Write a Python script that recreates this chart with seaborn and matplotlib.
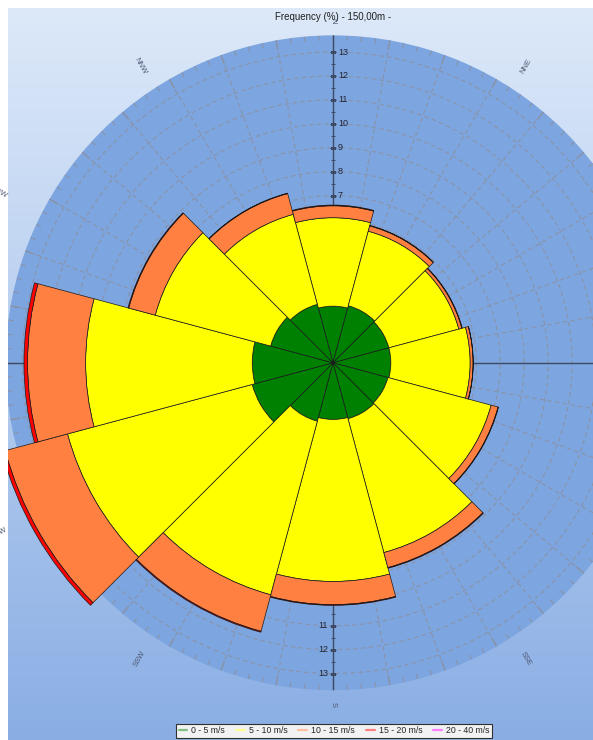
import numpy as np
import pandas as pd
import matplotlib
matplotlib.use("Agg")
import matplotlib.pyplot as plt
from matplotlib.lines import Line2D
from matplotlib.patches import Rectangle
import seaborn as sns

# ---- data -----------------------------------------------------------------
directions = ["N", "NNE", "ENE", "E", "ESE", "SSE",
              "S", "SSW", "WSW", "W", "WNW", "NNW"]
sector_deg = [0, 30, 60, 90, 120, 150, 180, 210, 240, 270, 300, 330]
speed_bins = ["0 - 5 m/s", "5 - 10 m/s", "10 - 15 m/s", "15 - 20 m/s", "20 - 40 m/s"]

# frequency (%) per sector for each speed class
freq_0_5 = [2.37, 2.47, 2.42, 2.42, 2.38, 2.42, 2.37, 2.53, 3.50, 3.38, 2.70, 2.53]
freq_5_10 = [3.70, 3.23, 3.03, 3.32, 4.47, 5.80, 6.78, 7.52, 8.00, 6.97, 5.00, 3.90]
freq_10_15 = [0.50, 0.23, 0.13, 0.12, 0.30, 0.65, 0.97, 1.58, 2.70, 2.43, 1.15, 0.90]
freq_15_20 = [0.03, 0.02, 0.02, 0.01, 0.02, 0.03, 0.03, 0.04, 0.15, 0.15, 0.03, 0.02]
freq_20_40 = [0.0] * 12

rtick_values = list(range(1, 14))

df = pd.DataFrame({
    "direction": directions,
    "angle": sector_deg,
    speed_bins[0]: freq_0_5,
    speed_bins[1]: freq_5_10,
    speed_bins[2]: freq_10_15,
    speed_bins[3]: freq_15_20,
    speed_bins[4]: freq_20_40,
})

# ---- style ----------------------------------------------------------------
sns.set_theme(style="white")
plt.rcParams["font.family"] = ["Liberation Sans", "DejaVu Sans"]

fill_colors = ["#008000", "#ffff00", "#ff8040", "#ff0000", "#ff00ff"]
legend_colors = ["#80c080", "#ffff90", "#ffc0a0", "#ff8080", "#ff80ff"]
disc_color = "#7da5df"
grid_color = "#8a93a8"
axis_color = "#3c4a66"

W, H = 593, 740
fig = plt.figure(figsize=(W / 100, H / 100), dpi=100, facecolor="white")

# gradient panel behind the rose
bg = fig.add_axes([8 / W, 0, (W - 8) / W, (H - 8) / H], zorder=0)
top = np.array(matplotlib.colors.to_rgb("#dde9f9"))
bot = np.array(matplotlib.colors.to_rgb("#8aaee4"))
t = np.linspace(0, 1, 256)[:, None]
grad = top[None, :] * (1 - t) + bot[None, :] * t
bg.imshow(grad[:, None, :], aspect="auto", extent=[0, 1, 0, 1])
bg.set_axis_off()

# polar axes
R = 13.7
px_per_unit = 23.9
cx, cy = 333.0, 362.8
rad_px = R * px_per_unit
ax = fig.add_axes([(cx - rad_px) / W, (H - cy - rad_px) / H,
                   2 * rad_px / W, 2 * rad_px / H],
                  projection="polar", zorder=1)
ax.set_theta_zero_location("N")
ax.set_theta_direction(-1)
ax.set_ylim(0, R)
ax.set_facecolor(disc_color)
ax.spines["polar"].set_visible(False)
ax.set_xticks([])
ax.set_yticks([])
ax.grid(False)

# dashed range rings and radial lines
th = np.linspace(0, 2 * np.pi, 721)
for r in rtick_values:
    ax.plot(th, np.full_like(th, r), color=grid_color, lw=0.8,
            ls=(0, (4, 3)), zorder=1)
for d in range(0, 360, 10):
    ax.plot([np.deg2rad(d)] * 2, [0, R], color=grid_color, lw=0.8,
            ls=(0, (4, 3)), zorder=1)

# rim ticks
minor_th = np.deg2rad(np.arange(0, 360, 2.5))
major_th = np.deg2rad(np.arange(0, 360, 10))
ax.vlines(minor_th, R - 0.22, R, color=grid_color, lw=0.8, zorder=1)
ax.vlines(major_th, R - 0.42, R, color=grid_color, lw=0.9, zorder=1)

# main cross axes
for a in (0, 90, 180, 270):
    ax.plot([np.deg2rad(a)] * 2, [0, R], color=axis_color, lw=1.0, zorder=2)
for r in rtick_values:
    for a in (0, np.pi):
        ax.plot(a, r, marker="_", ms=5, mew=0.8, color=axis_color, zorder=2)
        ax.plot(a, r - 0.5, marker="_", ms=2.5, mew=0.7, color=axis_color, zorder=2)
    ax.annotate(str(r), xy=(0, r), xytext=(3.5, 0), textcoords="offset points",
                ha="left", va="center", fontsize=6.5, color="#1e2433", zorder=2)
    ax.annotate(str(r), xy=(np.pi, r), xytext=(-3.5, 0), textcoords="offset points",
                ha="right", va="center", fontsize=6.5, color="#1e2433", zorder=2)

# stacked sectors
theta = np.deg2rad(df["angle"].to_numpy())
width = np.deg2rad(30)
bottom = np.zeros(len(df))
for label, fc in zip(speed_bins, fill_colors):
    vals = df[label].to_numpy()
    mask = vals > 0
    if mask.any():
        ax.bar(theta[mask], vals[mask], width=width, bottom=bottom[mask],
               color=fc, edgecolor="#1a1a1a", linewidth=0.5, zorder=3,
               clip_on=False)
    bottom = bottom + vals

# title
fig.text(cx / W, 1 - 17 / H, "Frequency (%) - 150,00m -", ha="center",
         va="center", fontsize=7, color="#202020", zorder=11)

# white margins around the panel
fig.add_artist(Rectangle((0, 0), 8 / W, 1, transform=fig.transFigure,
                         facecolor="white", edgecolor="none", zorder=10))
fig.add_artist(Rectangle((0, (H - 8) / H), 1, 8 / H, transform=fig.transFigure,
                         facecolor="white", edgecolor="none", zorder=10))

# direction labels on an ellipse around the rose, written along the radius
lab_a, lab_b = 386.0, 342.0
for name, deg in zip(df["direction"], df["angle"]):
    rad = np.deg2rad(deg)
    lx = cx + lab_a * np.sin(rad)
    ly = cy - lab_b * np.cos(rad)
    phi = 90 - deg
    rot = ((phi + 90) % 180) - 90
    fig.text(lx / W, 1 - ly / H, name, rotation=rot, rotation_mode="anchor",
             ha="center", va="center", fontsize=5.5, color="#4a5570",
             zorder=11)

# legend
handles = [Line2D([0], [0], color=c, lw=1.6) for c in legend_colors]
leg = fig.legend(handles, speed_bins, loc="lower center",
                 bbox_to_anchor=(334 / W, -0.003), ncol=5, fontsize=6.3,
                 frameon=True, fancybox=False, edgecolor="#303030",
                 facecolor="#f2f2f2", framealpha=1, borderpad=0.3,
                 handlelength=1.0, handletextpad=0.45, columnspacing=1.25)
leg.set_zorder(12)
leg.get_frame().set_linewidth(0.8)

fig.savefig("out.png", dpi=100, facecolor="white")
